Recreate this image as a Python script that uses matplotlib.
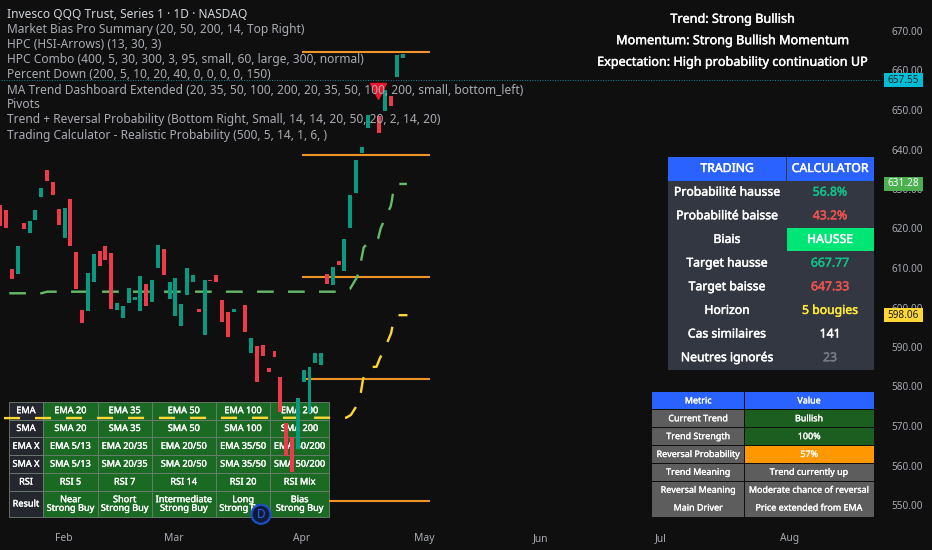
"""Dark trading chart of QQQ daily candles with dashboard tables on top."""
import matplotlib

matplotlib.use("Agg")
import matplotlib.patheffects as pe
import matplotlib.pyplot as plt
from matplotlib.patches import Circle, Rectangle

W, H = 932, 550
FONT = "Noto Sans"
BG = "#0f0f0f"
UP = "#089981"
DOWN = "#ee3b4b"
ORANGE = "#f0932b"

# candle bodies (index 64 is not visible in the reference)
candle_idx = list(range(64)) + list(range(65, 71))
opens = [
    625.95, 624.68, 609.66, 608.39, 621.47, 618.77, 622.15, 627.97, 634.72, 631.77,
    624.93, 617.68, 627.38, 614.13, 599.36, 599.11, 606.54, 614.39, 615.48, 613.79,
    599.36, 597.34, 601.14, 601.90, 599.11, 605.86, 601.31, 610.00, 614.72, 602.06,
    597.85, 595.31, 603.16, 606.37, 599.53, 593.12, 606.96, 608.14, 601.90, 598.94,
    598.94, 602.32, 600.63, 588.48, 590.25, 590.42, 584.68, 589.07, 582.49, 570.68,
    567.14, 564.10, 581.23, 573.38, 585.87, 585.36, 608.56, 605.69, 611.86, 609.32,
    620.04, 628.90, 639.03, 645.44, 648.48, 649.83, 653.63, 658.27, 663.16, 657.50,
]
closes = [
    620.63, 620.21, 607.13, 615.48, 619.79, 621.81, 624.60, 630.33, 632.11, 628.39,
    620.88, 625.27, 615.48, 604.77, 596.07, 608.73, 613.54, 610.42, 612.02, 599.70,
    601.14, 600.38, 604.93, 602.66, 608.06, 600.38, 606.96, 615.82, 608.23, 606.45,
    607.38, 600.80, 609.91, 608.14, 598.77, 606.96, 606.71, 606.54, 596.24, 592.61,
    599.53, 602.49, 593.88, 592.27, 581.05, 587.72, 583.75, 587.46, 573.55, 562.49,
    558.27, 577.01, 584.27, 584.86, 588.40, 588.40, 605.86, 610.17, 610.67, 617.30,
    628.56, 637.34, 640.55, 648.82, 644.09, 655.06, 651.10, 663.92, 664.18, 657.70,
]

# dashed moving levels
green_x = [1.5, 7, 8, 57.7, 59.95, 61.2, 61.8, 62.3, 63.7, 64.8, 65.2, 66.2, 66.9, 67.1, 67.5, 67.7, 69.7]
green_y = [603.6, 603.6, 604, 604, 604.7, 607.8, 611.5, 615.2, 617.4, 617.6, 620, 623.4,
           625.5, 626.8, 630.6, 631.28, 631.28]
yellow_x = [0.6, 59.3, 60.1, 61, 61.8, 62.2, 63.2, 64.5, 65, 66.1, 67, 67.5, 67.8, 69.8]
yellow_y = [572, 572.1, 572.8, 574.9, 578.4, 582, 584.9, 585, 586.9, 590.3, 593.5, 597.3,
            598.06, 598.06]

# pivots
pivot_levels = [664.8, 638.6, 607.8, 581.8, 550.9]
pivot_start = [51.7, 51.7, 51.7, 51.7, 56.4]
pivot_end = [73.7, 73.7, 73.7, 73.7, 73.7]

price_ticks = list(range(550, 680, 10))
month_pos = [10.9, 29.8, 51.7, 72.6, 92.7, 113.3, 135.4]
month_names = ["Feb", "Mar", "Apr", "May", "Jun", "Jul", "Aug"]
last_price = 657.55
green_level = 631.28
yellow_level = 598.06

legend_lines = [
    "Invesco QQQ Trust, Series 1 · 1D · NASDAQ",
    "Market Bias Pro Summary (20, 50, 200, 14, Top Right)",
    "HPC (HSI-Arrows) (13, 30, 3)",
    "HPC Combo (400, 5, 30, 300, 3, 95, small, 60, large, 300, normal)",
    "Percent Down (200, 5, 10, 20, 40, 0, 0, 0, 0, 150)",
    "MA Trend Dashboard Extended (20, 35, 50, 100, 200, 20, 35, 50, 100, 200, small, bottom_left)",
    "Pivots",
    "Trend + Reversal Probability (Bottom Right, Small, 14, 14, 20, 50, 20, 2, 14, 20)",
    "Trading Calculator - Realistic Probability (500, 5, 14, 1, 6, )",
]
summary_lines = [
    "Trend: Strong Bullish",
    "Momentum: Strong Bullish Momentum",
    "Expectation: High probability continuation UP",
]

ma_rows = [
    ["EMA", "EMA 20", "EMA 35", "EMA 50", "EMA 100", "EMA 200"],
    ["SMA", "SMA 20", "SMA 35", "SMA 50", "SMA 100", "SMA 200"],
    ["EMA X", "EMA 5/13", "EMA 20/35", "EMA 20/50", "EMA 35/50", "EMA 50/200"],
    ["SMA X", "SMA 5/13", "SMA 20/35", "SMA 20/50", "SMA 35/50", "SMA 50/200"],
    ["RSI", "RSI 5", "RSI 7", "RSI 14", "RSI 20", "RSI Mix"],
    ["Result", "Near\nStrong Buy", "Short\nStrong Buy", "Intermediate\nStrong Buy",
     "Long\nStrong Buy", "Bias\nStrong Buy"],
]
calc_labels = ["TRADING", "Probabilité hausse", "Probabilité baisse", "Biais", "Target hausse",
               "Target baisse", "Horizon", "Cas similaires", "Neutres ignorés"]
calc_values = ["CALCULATOR", "56.8%", "43.2%", "HAUSSE", "667.77", "647.33", "5 bougies", "141", "23"]
calc_colors = ["white", "#12c087", "#ef5350", "white", "#12c087", "#ef5350", "#ffe93b", "white", "#787b86"]
metric_labels = ["Metric", "Current Trend", "Trend Strength", "Reversal Probability",
                 "Trend Meaning", "Reversal Meaning", "Main Driver"]
metric_values = ["Value", "Bullish", "100%", "57%", "Trend currently up",
                 "Moderate chance of reversal", "Price extended from EMA"]
metric_fills = ["#2962ff", "#1b5e20", "#1b5e20", "#ff9800", "#5d5d5d", "#5d5d5d", "#5d5d5d"]


def pixel_axes(fig, zorder):
    # overlay axes in image pixels, for panels pinned to the screen
    a = fig.add_axes([0, 0, 1, 1], zorder=zorder)
    a.set_xlim(0, W)
    a.set_ylim(H, 0)
    a.axis("off")
    return a


def cell(a, x0, x1, y0, y1, fill, edge="none", lw=0):
    a.add_patch(Rectangle((x0, y0), x1 - x0, y1 - y0, facecolor=fill, edgecolor=edge, linewidth=lw))


def label(a, x, y, s, size, color="white", heavy=0.0, **kw):
    t = a.text(x, y, s, fontsize=size, color=color, ha="center", va="center", family=FONT, **kw)
    if heavy:
        # the reference's panel text sits between regular and bold
        t.set_path_effects([pe.withStroke(linewidth=heavy, foreground=color)])


fig = plt.figure(figsize=(W / 100, H / 100), dpi=100, facecolor=BG)
back = pixel_axes(fig, 0)
back.set_facecolor(BG)
back.patch.set_visible(True)
back.axis("on")
back.set_xticks([])
back.set_yticks([])
for s in back.spines.values():
    s.set_visible(False)

# moving-average table sits under the candles
col_x = [8.7, 43.3, 97.7, 151.7, 216, 270.3, 329]
row_y = [401.7, 419.7, 437.3, 455.3, 473, 491, 517]
for r, row in enumerate(ma_rows):
    for c, s in enumerate(row):
        fill = "#24272e" if c == 0 else "#1b6a24"
        cell(back, col_x[c], col_x[c + 1], row_y[r], row_y[r + 1], fill, "#6f7f72", 0.6)
        label(back, (col_x[c] + col_x[c + 1]) / 2, (row_y[r] + row_y[r + 1]) / 2, s, 6.6,
              heavy=0.25, linespacing=0.95)

ax = fig.add_axes([0, 0, 1, 1], zorder=1)
ax.patch.set_alpha(0)
ax.set_xlim(-0.5 / 5.83, (W - 0.5) / 5.83)
ax.set_ylim(670 - 519 / 3.95, 670 + 31 / 3.95)
for s in ax.spines.values():
    s.set_visible(False)

for lvl, a0, a1 in zip(pivot_levels, pivot_start, pivot_end):
    ax.hlines(lvl, a0, a1, color=ORANGE, lw=1.5, zorder=2)
ax.plot(green_x, green_y, color="#66bb6a", lw=1.7, ls=(0, (7.07, 6.06)), zorder=2.5)
ax.plot(yellow_x, yellow_y, color="#fdd835", lw=1.7, ls=(0, (6.8, 6.33)), zorder=2.5)

body_h = [abs(c - o) for o, c in zip(opens, closes)]
body_b = [min(o, c) for o, c in zip(opens, closes)]
body_c = [UP if c >= o else DOWN for o, c in zip(opens, closes)]
ax.bar(candle_idx, body_h, bottom=body_b, width=0.68, color=body_c, zorder=3)

ax.plot([64.7], [654.9], marker="v", ms=11, color="#f0142a", ls="none", zorder=2.8)
ax.plot([0, 151], [last_price, last_price], color="#148c9c", lw=0.7, ls=(0, (1, 1.6)), zorder=1.5)

ax.yaxis.tick_right()
ax.set_yticks(price_ticks)
ax.set_yticklabels([f"{p:.2f}" for p in price_ticks], fontsize=7.2, color="#a8abb3", family=FONT)
ax.set_xticks(month_pos)
ax.set_xticklabels(month_names, fontsize=7.4, color="#a8abb3", family=FONT)
ax.tick_params(axis="y", length=0, pad=-29.2)
ax.tick_params(axis="x", length=0, pad=-12.2)

front = pixel_axes(fig, 2)
for i, s in enumerate(legend_lines):
    front.text(7, 15 + 15 * i, s, fontsize=8.6, color="#d1d4dc" if i == 0 else "#a9acb4",
               fontweight="bold" if i == 0 else "normal", va="center", family=FONT)
for y, s in zip([19.3, 40.7, 62.3], summary_lines):
    label(front, 733, y, s, 9.1, heavy=0.3)

# price tags on the axis
tag_x0, tag_x1 = 883.7, 922.7
for price, fill, tc in [(last_price, "#00bcd4", "#10252b"), (green_level, "#4caf50", "white"),
                        (yellow_level, "#fdd835", "#1c1a0c")]:
    y = (670 - price) * 3.95 + 31
    cell(front, tag_x0, tag_x1, y - 6.7, y + 6.7, fill)
    label(front, (tag_x0 + tag_x1) / 2, y, f"{price:.2f}", 7.2, tc)

# trading calculator
cx = [668, 786, 874]
cell(front, cx[0], cx[2], 157.3, 370, "#333741")
cell(front, cx[0], cx[1] - 0.5, 157.3, 180.7, "#2962ff")
cell(front, cx[1] + 0.5, cx[2], 157.3, 180.7, "#2962ff")
cell(front, 787, 874, 228.3, 251.3, "#00e676")
for i, (a, b, c) in enumerate(zip(calc_labels, calc_values, calc_colors)):
    y = 168.5 + 23.65 * i
    label(front, 727, y, a, 8.8, heavy=0.35)
    label(front, 830, y, b, 8.8, c, heavy=0.35)

# trend + reversal table
mx = [652.3, 744.3, 874]
my = [392.3 + 17.86 * i for i in range(8)]
for i, (a, b, f) in enumerate(zip(metric_labels, metric_values, metric_fills)):
    left = "#2962ff" if i == 0 else "#5d5d5d"
    cell(front, mx[0], mx[1] - 0.5, my[i], my[i + 1] - 0.7, left)
    cell(front, mx[1] + 0.5, mx[2], my[i], my[i + 1] - 0.7, f)
    y = (my[i] + my[i + 1]) / 2 - 0.3
    label(front, (mx[0] + mx[1]) / 2, y, a, 6.45, heavy=0.2)
    label(front, (mx[1] + mx[2]) / 2, y, b, 6.45, heavy=0.2)

# round logo over the table corner
front.add_patch(Circle((261, 514.3), 9.5, facecolor="#101a3a", edgecolor="#1f4fc4", lw=1.6))
label(front, 261, 514.3, "D", 8.5, "#2a62e8", fontweight="bold")

fig.savefig("out.png", dpi=100, facecolor=BG)
